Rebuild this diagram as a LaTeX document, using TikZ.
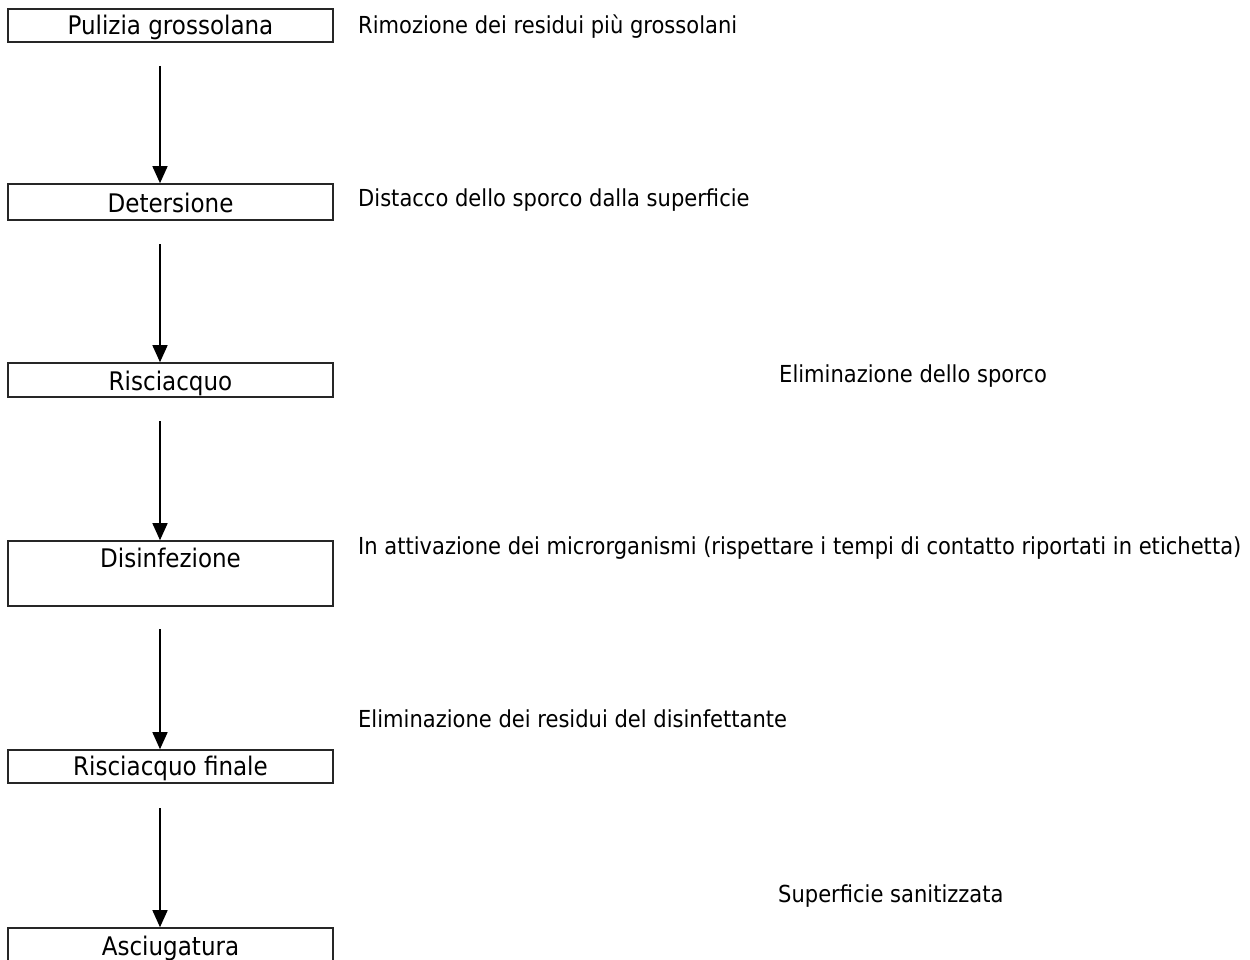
\documentclass[tikz,border=0pt]{standalone}
\usepackage{fontspec}
\setmainfont{DejaVu Sans Condensed}
\usetikzlibrary{arrows.meta}
\begin{document}
\begin{tikzpicture}[x=1pt,y=-1pt,
  font=\fontsize{23.4}{28}\selectfont,
  stepbox/.style={draw=black!85,line width=1.6pt,minimum width=325pt,inner xsep=0pt,inner ysep=0pt,text height=24pt,text depth=9pt,font=\fontsize{25.6}{30}\selectfont},
  note/.style={anchor=base west,inner sep=0pt},
  arr/.style={line width=1.5pt,-{Triangle[width=15pt,length=17pt]}}]
\useasboundingbox (0,0) rectangle (1250,960);
\node[stepbox,text height=26pt,text depth=7pt] (b1) at (170.5,25.5) {Pulizia grossolana};
\node[stepbox,text height=28pt,text depth=8pt] (b2) at (170.5,202) {Detersione};
\node[stepbox,text height=27pt,text depth=7pt] (b3) at (170.5,380) {Risciacquo};
\node[stepbox,text height=26pt,text depth=39pt] (b4) at (170.5,573.5) {Disinfezione};
\node[stepbox,text height=25pt,text depth=8pt] (b5) at (170.5,766.5) {Risciacquo finale};
\node[stepbox,text height=27pt,text depth=7pt] (b6) at (170.5,945) {Asciugatura};
\coordinate (s1) at (160,66);
\coordinate (s2) at (160,244);
\coordinate (s3) at (160,421);
\coordinate (s4) at (160,629);
\coordinate (s5) at (160,808);
\draw[arr] (s1) -- (s1 |- b2.north);
\draw[arr] (s2) -- (s2 |- b3.north);
\draw[arr] (s3) -- (s3 |- b4.north);
\draw[arr] (s4) -- (s4 |- b5.north);
\draw[arr] (s5) -- (s5 |- b6.north);
\node[note] (t1) at (358,34) {Rimozione dei residui più grossolani};
\node[note] (t2) at (358,207) {Distacco dello sporco dalla superficie};
\node[note] (t3) at (779,382) {Eliminazione dello sporco};
\node[note] (t4) at (358,554) {In attivazione dei microrganismi (rispettare i tempi di contatto riportati in etichetta)};
\node[note] (t5) at (358,727) {Eliminazione dei residui del disinfettante};
\node[note] (t6) at (778,902) {Superficie sanitizzata};
\end{tikzpicture}
\end{document}
